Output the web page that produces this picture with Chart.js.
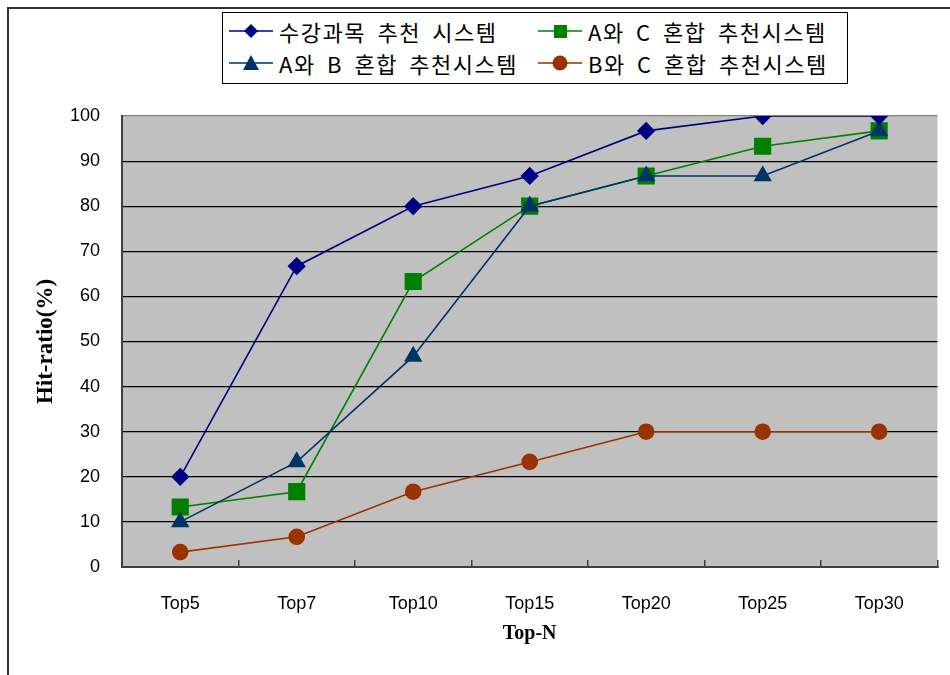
<!DOCTYPE html>
<html>
<head>
<meta charset="utf-8">
<script src="https://cdn.jsdelivr.net/npm/chart.js@4/dist/chart.umd.min.js"></script>
<style>
  body { margin: 0; background: #fff; }
  #wrap { position: relative; width: 950px; height: 675px; overflow: hidden; }
  #frame { position: absolute; left: 7px; top: 7px; width: 1000px; height: 1000px;
           border-left: 2px solid #333; border-top: 2px solid #333; }
  #legend { position: absolute; left: 222px; top: 12px; width: 624px; height: 68px;
            border: 1px solid #000; background: #fff; padding-top: 2px;
            display: grid; grid-template-columns: 309px 315px; grid-auto-rows: 32px;
            font: 22px "Noto Sans CJK KR"; letter-spacing: 1.5px; word-spacing: 5px; color: #000; }
  .item { display: flex; align-items: center; padding-left: 6px; white-space: nowrap; }
  .item svg { margin-right: 6px; flex: none; }
  canvas { position: absolute; left: 0; top: 0; }
</style>
</head>
<body>
<div id="wrap">
  <div id="frame"></div>
  <canvas id="myChart" width="950" height="675"></canvas>
  <div id="legend"></div>
</div>
<script>
// x-axis categories
var topN = ['Top5', 'Top7', 'Top10', 'Top15', 'Top20', 'Top25', 'Top30'];
// series values (hit-ratio %)
var courseRec = [20, 66.7, 80, 86.7, 96.7, 100, 100];
var mixAC = [13.3, 16.7, 63.3, 80, 86.7, 93.3, 96.7];
var mixAB = [10, 23.3, 46.7, 80, 86.7, 86.7, 96.7];
var mixBC = [3.3, 6.7, 16.7, 23.3, 30, 30, 30];
// legend labels
var names = ['수강과목 추천 시스템', 'A와 C 혼합 추천시스템', 'A와 B 혼합 추천시스템', 'B와 C 혼합 추천시스템'];

var plotBg = {
  id: 'plotBg',
  beforeDraw: function (chart) {
    var a = chart.chartArea, c = chart.ctx;
    c.save();
    c.fillStyle = '#C0C0C0';
    c.fillRect(a.left, a.top, a.right - a.left, a.bottom - a.top);
    c.restore();
  }
};

var ctx = document.getElementById('myChart');
var myChart = new Chart(ctx, {
  type: 'line',
  data: {
    labels: topN,
    datasets: [
      { label: names[0], data: courseRec, borderColor: '#000080', backgroundColor: '#000080',
        pointStyle: 'rectRot', pointRadius: 8, borderWidth: 1.6, order: 1 },
      { label: names[2], data: mixAB, borderColor: '#003366', backgroundColor: '#003366',
        pointStyle: 'triangle', pointRadius: 9, borderWidth: 1.6, order: 2 },
      { label: names[1], data: mixAC, borderColor: '#008000', backgroundColor: '#008000',
        pointStyle: 'rect', pointRadius: 11, borderWidth: 1.6, order: 3 },
      { label: names[3], data: mixBC, borderColor: '#993300', backgroundColor: '#993300',
        pointStyle: 'circle', pointRadius: 7.5, borderWidth: 1.6, order: 4 }
    ]
  },
  options: {
    responsive: false,
    animation: false,
    layout: { padding: { top: 116, right: 10, left: 8, bottom: 0 } },
    plugins: { legend: { display: false }, tooltip: { enabled: false } },
    elements: { line: { tension: 0, fill: false }, point: { borderWidth: 0 } },
    scales: {
      x: {
        offset: true,
        grid: { offset: true, drawOnChartArea: false, drawTicks: true, tickLength: -7, color: '#404040', lineWidth: 1.5 },
        border: { display: true, color: '#404040', width: 2 },
        ticks: { color: '#000', padding: 33, font: { family: '"Liberation Sans Narrow", "Liberation Sans"', size: 18 } },
        title: { display: true, text: 'Top-N', color: '#000', padding: { bottom: 29, top: 0 },
                 font: { family: '"Liberation Serif"', size: 20, weight: 'bold' } },
        afterFit: function (s) { s.height = 108; }
      },
      y: {
        min: 0, max: 100,
        ticks: { stepSize: 10, color: '#000', padding: 22, font: { family: '"Liberation Sans"', size: 18 } },
        grid: { drawTicks: false, color: function (c) { return c.tick.value === 100 ? '#808080' : '#000'; }, lineWidth: 1.2 },
        border: { display: true, color: '#404040', width: 2 },
        title: { display: true, text: 'Hit-ratio(%)', color: '#000', padding: { top: 24, bottom: 0 },
                 font: { family: '"Liberation Serif"', size: 23, weight: 'bold' } },
        afterFit: function (s) { s.width = 114; }
      }
    }
  },
  plugins: [plotBg]
});

// legend boxes, built from the chart's datasets
function icon(ds) {
  var c = ds.borderColor, m;
  if (ds.pointStyle === 'rectRot') m = '<polygon points="22,3 29,10 22,17 15,10" fill="' + c + '"/>';
  else if (ds.pointStyle === 'rect') m = '<rect x="16" y="4" width="13" height="13" fill="' + c + '"/>';
  else if (ds.pointStyle === 'triangle') m = '<polygon points="22,2 30,17 14,17" fill="' + c + '"/>';
  else m = '<circle cx="22" cy="10" r="7.5" fill="' + c + '"/>';
  return '<svg width="44" height="20"><line x1="0" y1="10" x2="44" y2="10" stroke="' + c + '" stroke-width="1.6"/>' + m + '</svg>';
}
var order = [0, 2, 1, 3];
var html = '';
order.forEach(function (i) {
  var ds = myChart.data.datasets[i];
  html += '<div class="item">' + icon(ds) + '<span>' + ds.label + '</span></div>';
});
document.getElementById('legend').innerHTML = html;
</script>
</body>
</html>
